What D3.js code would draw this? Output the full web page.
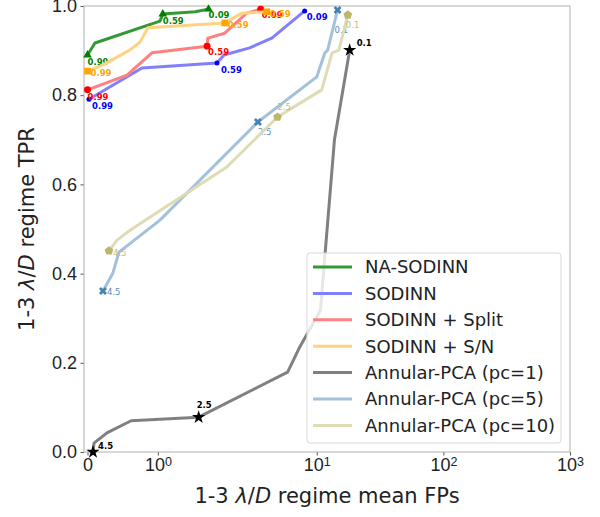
<!DOCTYPE html>
<html lang="en">
<head>
<meta charset="UTF-8">
<title>TPR vs mean FPs, 1-3 lambda/D</title>
<script src="https://cdnjs.cloudflare.com/ajax/libs/d3/7.8.5/d3.min.js"></script>
<style>
  body { margin: 0; background: #fff; }
  svg { display: block; font-family: 'DejaVu Sans', sans-serif; }
  .axis text { font-size: 18px; fill: #222; }
  .axis line { stroke: #555; }
  .title { font-size: 21px; fill: #222; }
  .legend text { font-size: 18px; fill: #222; }
</style>
</head>
<body>
<svg id="chart" width="600" height="517"></svg>
<script>
// ---- data ----
const sodinnThr = ["0.99", "0.59", "0.09"];
const snThr = ["0.99", "0.59", "0.59"];
const pcaThr = ["4.5", "2.5", "0.1"];

const naSodinnFP  = [0, 0.106, 1.03, 1.07, 1.53, 1.72];
const naSodinnTPR = [0.890, 0.917, 0.966, 0.982, 0.987, 0.993];
const naSodinnMk  = [0, 3, 5];

const sodinnFP  = [0.021, 0.774, 1.84, 1.94, 2.95, 4.42, 8.03];
const sodinnTPR = [0.791, 0.861, 0.872, 0.890, 0.906, 0.928, 0.989];
const sodinnMk  = [0, 2, 6];

const splitFP  = [0, 0.561, 0.916, 1.70, 1.71, 1.95, 2.80, 3.61];
const splitTPR = [0.812, 0.845, 0.895, 0.910, 0.928, 0.939, 0.984, 0.993];
const splitMk  = [0, 3, 7];

const snFP  = [0, 0.22, 0.60, 0.745, 0.859, 1.95, 2.07, 2.57, 4.03];
const snTPR = [0.854, 0.868, 0.901, 0.919, 0.951, 0.962, 0.969, 0.984, 0.987];
const snMk  = [0, 5, 8];

const pc1FP  = [0.078, 0.092, 0.276, 0.62, 1.58, 5.89, 7.33, 10.7, 13.8, 18.2];
const pc1TPR = [0.0, 0.020, 0.043, 0.070, 0.078, 0.179, 0.235, 0.318, 0.700, 0.901];
const pc1Mk  = [0, 4, 9];

const pc5FP  = [0.22, 0.36, 0.447, 1.03, 3.43, 10.0, 11.6, 12.2, 14.6];
const pc5TPR = [0.361, 0.401, 0.448, 0.520, 0.740, 0.841, 0.895, 0.901, 0.991];
const pc5Mk  = [0, 4, 8];

const pc10FP  = [0.305, 0.419, 0.63, 1.98, 4.90, 10.96, 13.2, 14.96, 17.6];
const pc10TPR = [0.451, 0.475, 0.500, 0.639, 0.751, 0.812, 0.895, 0.901, 0.980];
const pc10Mk  = [0, 4, 8];

const xTicks = [0, 1, 10, 100, 1000];
const xTickExp = [null, "0", "1", "2", "3"];
const yTicks = [0, 0.2, 0.4, 0.6, 0.8, 1.0];

// pentagon marker
const symbolPentagon = {
  draw(ctx, size) {
    const r = Math.sqrt(size / 2.378);
    for (let i = 0; i < 5; i++) {
      const a = -Math.PI / 2 + i * 2 * Math.PI / 5;
      const px = r * Math.cos(a), py = r * Math.sin(a);
      if (i === 0) ctx.moveTo(px, py); else ctx.lineTo(px, py);
    }
    ctx.closePath();
  }
};

const series = [
  { name: "NA-SODINN", fp: naSodinnFP, tpr: naSodinnTPR, mk: naSodinnMk, lab: sodinnThr,
    line: "rgb(51,153,51)", mc: "green", sym: d3.symbolTriangle, size: 32, rot: 0,
    bold: true, off: [[0, 10], [0, 10], [0, 9]] },
  { name: "SODINN", fp: sodinnFP, tpr: sodinnTPR, mk: sodinnMk, lab: sodinnThr,
    line: "rgb(128,128,255)", mc: "blue", sym: d3.symbolCircle, size: 20, rot: 0,
    bold: true, off: [[3, 10], [4, 10], [2, 9]] },
  { name: "SODINN + Split", fp: splitFP, tpr: splitTPR, mk: splitMk, lab: sodinnThr,
    line: "rgb(255,128,128)", mc: "red", sym: d3.symbolCircle, size: 38, rot: 0,
    bold: true, off: [[0, 10], [1, 9], [1, 9]] },
  { name: "SODINN + S/N", fp: snFP, tpr: snTPR, mk: snMk, lab: snThr,
    line: "rgb(255,210,128)", mc: "orange", sym: d3.symbolSquare, size: 45, rot: 0,
    bold: true, off: [[3, 5], [3, 5], [3, 5]] },
  { name: "Annular-PCA (pc=1)", fp: pc1FP, tpr: pc1TPR, mk: pc1Mk, lab: pcaThr,
    line: "rgb(128,128,128)", mc: "black", sym: d3.symbolStar, size: 55, rot: 0,
    bold: true, off: [[5, -3], [-2, -9], [7, -4]] },
  { name: "Annular-PCA (pc=5)", fp: pc5FP, tpr: pc5TPR, mk: pc5Mk, lab: pcaThr,
    line: "rgb(163,193,218)", mc: "steelblue", sym: d3.symbolCross, size: 40, rot: 45,
    bold: false, off: [[4, 4], [0, 13], [-3, 23]] },
  { name: "Annular-PCA (pc=10)", fp: pc10FP, tpr: pc10TPR, mk: pc10Mk, lab: pcaThr,
    line: "rgb(222,219,181)", mc: "darkkhaki", sym: symbolPentagon, size: 50, rot: 0,
    bold: false, off: [[4, 5], [0, -7], [-2, 13]] }
];

// ---- scales: symlog, linthresh 2, linscale 1 ----
function symT(v) {
  const C = 2, ls = 1 / (1 - 1 / 10), a = Math.abs(v);
  return a <= C ? v * ls : Math.sign(v) * C * (ls + Math.log10(a / C));
}
const pl = 84, pr = 570, pt = 6, pb = 452;
const x = d3.scaleLinear().domain([symT(-0.05), symT(1000)]).range([pl, pr]);
const y = d3.scaleLinear().domain([0, 1]).range([pb, pt]);
const X = v => x(symT(v));

const svg = d3.select("#chart");

// axes
const gx = svg.append("g").attr("class", "axis")
  .attr("transform", `translate(0,${pb})`)
  .call(d3.axisBottom(x).tickValues(xTicks.map(symT)).tickSize(3.5).tickPadding(3).tickFormat(""));
gx.select(".domain").remove();
gx.selectAll(".tick text").each(function(d, i) {
  const t = d3.select(this).attr("dy", "0.71em").attr("y", 6.5);
  if (xTickExp[i] === null) { t.text("0"); return; }
  t.append("tspan").text("10");
  t.append("tspan").attr("dy", "-0.45em").style("font-size", "12.5px").text(xTickExp[i]);
});

const gy = svg.append("g").attr("class", "axis")
  .attr("transform", `translate(${pl},0)`)
  .call(d3.axisLeft(y).tickValues(yTicks).tickSize(3.5).tickPadding(3.5).tickFormat(d3.format(".1f")));
gy.select(".domain").remove();

// spines
svg.append("rect")
  .attr("x", pl).attr("y", pt).attr("width", pr - pl).attr("height", pb - pt)
  .attr("fill", "none").attr("stroke", "#b0b0b0").attr("stroke-width", 1);

// lines, markers, labels
const line = d3.line().x(d => X(d[0])).y(d => y(d[1]));
series.forEach(s => {
  const pts = s.fp.map((v, i) => [v, s.tpr[i]]);
  svg.append("path").datum(pts)
    .attr("d", line)
    .attr("fill", "none").attr("stroke", s.line)
    .attr("stroke-width", 3).attr("stroke-linejoin", "round");
  const sym = d3.symbol().type(s.sym).size(s.size);
  s.mk.forEach((idx, k) => {
    const px = X(s.fp[idx]), py = y(s.tpr[idx]);
    svg.append("path")
      .attr("d", sym)
      .attr("transform", `translate(${px},${py}) rotate(${s.rot})`)
      .attr("fill", s.mc);
    svg.append("text")
      .attr("x", px + s.off[k][0]).attr("y", py + s.off[k][1])
      .attr("fill", s.mc)
      .style("font-size", "8.5px")
      .style("font-weight", s.bold ? "bold" : "normal")
      .attr("opacity", s.bold ? 1 : 0.9)
      .text(s.lab[k]);
  });
});

// axis titles
svg.append("text").attr("class", "title")
  .attr("x", (pl + pr) / 2).attr("y", 503).attr("text-anchor", "middle")
  .call(t => {
    t.append("tspan").text("1-3 ");
    t.append("tspan").style("font-style", "italic").text("λ");
    t.append("tspan").text("/");
    t.append("tspan").style("font-style", "italic").text("D");
    t.append("tspan").text(" regime mean FPs");
  });
svg.append("text").attr("class", "title")
  .attr("transform", `translate(34,${(pt + pb) / 2}) rotate(-90)`)
  .attr("text-anchor", "middle")
  .call(t => {
    t.append("tspan").text("1-3 ");
    t.append("tspan").style("font-style", "italic").text("λ");
    t.append("tspan").text("/");
    t.append("tspan").style("font-style", "italic").text("D");
    t.append("tspan").text(" regime TPR");
  });

// legend
const lg = svg.append("g").attr("class", "legend");
lg.append("rect")
  .attr("x", 307).attr("y", 253).attr("width", 254).attr("height", 190)
  .attr("rx", 3).attr("fill", "white").attr("fill-opacity", 0.8)
  .attr("stroke", "#d8d8d8");
series.forEach((s, i) => {
  const yy = 267 + i * 26.4;
  lg.append("line").attr("x1", 313).attr("x2", 352).attr("y1", yy).attr("y2", yy)
    .attr("stroke", s.line).attr("stroke-width", 3);
  lg.append("text").attr("x", 365).attr("y", yy).attr("dy", "0.35em").text(s.name);
});
</script>
</body>
</html>
